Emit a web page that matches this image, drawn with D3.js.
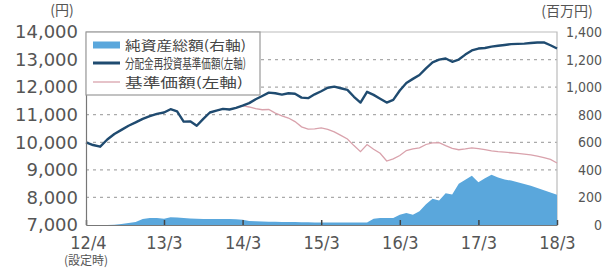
<!DOCTYPE html>
<html>
<head>
<meta charset="utf-8">
<script src="https://cdn.jsdelivr.net/npm/d3@7"></script>
<style>
  body { margin: 0; background: #fff; }
  svg { display: block; }
  .jp { font-family: "Noto Sans CJK JP", sans-serif; }
  .num { font-family: "DejaVu Sans", sans-serif; fill: #555; }
  .cond { font-family: "DejaVu Sans Condensed", "DejaVu Sans", sans-serif; fill: #555; }
</style>
</head>
<body>
<div id="chart"></div>
<script>
// monthly data, index 0 = 2012/4 (設定時) ... index 71 = 2018/3
const reinvestNav = [10000, 9900, 9840, 10100, 10300, 10450, 10600, 10720, 10850, 10950, 11030, 11080,
  11200, 11120, 10750, 10760, 10600, 10850, 11080, 11150, 11210, 11190, 11250, 11330,
  11420, 11560, 11680, 11800, 11780, 11730, 11780, 11760, 11620, 11600, 11740, 11850,
  11980, 12020, 11960, 11900, 11650, 11440, 11830, 11720, 11580, 11440, 11540, 11880,
  12150, 12300, 12440, 12680, 12900, 13000, 13040, 12920, 13000, 13180, 13330, 13400,
  13420, 13470, 13500, 13530, 13560, 13570, 13580, 13600, 13620, 13620, 13520, 13400]

const nav = [10000, 9900, 9840, 10100, 10300, 10450, 10600, 10720, 10850, 10950, 11030, 11080,
  11200, 11120, 10750, 10760, 10600, 10850, 11080, 11150, 11210, 11190, 11250, 11330,
  11280, 11220, 11180, 11190, 11060, 10960, 10880, 10750, 10560, 10480, 10490, 10520,
  10470, 10380, 10250, 10120, 9880, 9660, 9920, 9750, 9600, 9320, 9400, 9520,
  9700, 9760, 9800, 9920, 9980, 9990, 9880, 9780, 9730, 9760, 9800, 9770,
  9730, 9690, 9660, 9640, 9620, 9600, 9570, 9540, 9500, 9440, 9380, 9250]

const netAssets = [0, 0, 0, 0, 2, 8, 15, 22, 44, 51, 51, 46,
  56, 55, 51, 48, 46, 44, 44, 44, 44, 43, 42, 38,
  29, 27, 26, 24, 23, 22, 22, 21, 20, 20, 19, 19,
  18, 18, 18, 18, 18, 18, 18, 45, 51, 51, 51, 75,
  87, 75, 100, 150, 190, 178, 230, 222, 300, 328, 357, 310,
  340, 365, 345, 330, 322, 310, 298, 285, 268, 252, 235, 220]

const xTickMonths = [0, 11, 23, 35, 47, 59, 71]
const xTickLabels = ['12/4', '13/3', '14/3', '15/3', '16/3', '17/3', '18/3']
const leftTicks = [7000, 8000, 9000, 10000, 11000, 12000, 13000, 14000]
const rightTicks = [0, 200, 400, 600, 800, 1000, 1200, 1400]
const legendLabels = ['純資産総額(右軸)', '分配金再投資基準価額(左軸)', '基準価額(左軸)']

const w = 605, h = 271
const pL = 86, pR = 557, pT = 32, pB = 225

const svg = d3.select('#chart').append('svg').attr('width', w).attr('height', h)

const x = d3.scaleLinear().domain([0, 11, 71]).range([pL, 164, pR])
const yL = d3.scaleLinear().domain([7000, 14000]).range([pB, pT])
const yR = d3.scaleLinear().domain([0, 1400]).range([pB, pT])

// dotted grid
svg.append('g').selectAll('line')
   .data(leftTicks.slice(1, -1))
   .enter().append('line')
   .attr('x1', pL).attr('x2', pR)
   .attr('y1', d => yL(d)).attr('y2', d => yL(d))
   .attr('stroke', '#aaa').attr('stroke-width', 1.2)
   .attr('stroke-dasharray', '3,4')

// plot frame (top + right)
svg.append('path')
   .attr('d', `M${pL},${pT}H${pR}V${pB}`)
   .attr('fill', 'none').attr('stroke', '#bbb').attr('stroke-width', 1.2)

// net assets area
const area = d3.area()
               .x((d, i) => x(i))
               .y0(yR(0))
               .y1(d => yR(d))
svg.append('path').datum(netAssets)
   .attr('d', area)
   .attr('fill', '#5aa7dc')

// nav lines
const lineL = d3.line().x((d, i) => x(i)).y(d => yL(d))
svg.append('path').datum(nav)
   .attr('d', lineL)
   .attr('fill', 'none').attr('stroke', '#d9a2ac').attr('stroke-width', 1.3)

svg.append('path').datum(reinvestNav)
   .attr('d', lineL)
   .attr('fill', 'none').attr('stroke', '#1f4b70').attr('stroke-width', 2.4)
   .attr('stroke-linejoin', 'round')

// axes
const xA = d3.axisBottom(x)
             .tickValues(xTickMonths)
             .tickFormat((d, i) => xTickLabels[i])
             .tickSizeInner(-5).tickSizeOuter(0)
const gx = svg.append('g').attr('transform', 'translate(0,' + pB + ')').call(xA)
gx.select('.domain').attr('stroke', '#777').attr('stroke-width', 1.2)
gx.selectAll('.tick line').attr('stroke', '#444').attr('stroke-width', 1.5)
gx.selectAll('.tick text')
  .attr('class', 'cond').attr('y', 24).attr('dy', 0)
  .style('font-size', '18px')
gx.selectAll('.tick').filter((d, i) => i === 0).select('text').attr('x', 2)

svg.append('text').attr('class', 'jp')
   .attr('x', 86).attr('y', 265).attr('text-anchor', 'middle')
   .attr('fill', '#555').style('font-size', '12px')
   .text('(設定時)')

const yA = d3.axisLeft(yL).tickValues(leftTicks).tickFormat(d3.format(',')).tickSize(0).tickPadding(8)
const gy = svg.append('g').attr('transform', 'translate(' + pL + ',0)').call(yA)
gy.select('.domain').attr('stroke', '#777').attr('stroke-width', 1.2)
gy.selectAll('.tick text').attr('class', 'num').style('font-size', '18px')

const yB = d3.axisRight(yR).tickValues(rightTicks).tickFormat(d3.format(',')).tickSize(0)
const gr = svg.append('g').attr('transform', 'translate(' + pR + ',0)').call(yB)
gr.select('.domain').remove()
gr.selectAll('.tick text').attr('class', 'cond')
  .attr('x', 45).attr('text-anchor', 'end').style('font-size', '14px')

// unit labels
svg.append('text').attr('class', 'jp')
   .attr('x', 62).attr('y', 15).attr('text-anchor', 'middle')
   .attr('fill', '#555').style('font-size', '14px').text('(円)')
svg.append('text').attr('class', 'jp')
   .attr('x', 567).attr('y', 16).attr('text-anchor', 'middle')
   .attr('fill', '#555').style('font-size', '14px').text('(百万円)')

// legend
const lg = svg.append('g')
lg.append('rect').attr('x', pL).attr('y', pT).attr('width', 174).attr('height', 63)
  .attr('fill', '#fff').attr('stroke', '#999').attr('stroke-width', 1.2)
const rowY = [45, 63, 82]
lg.append('rect').attr('x', 93).attr('y', rowY[0] - 3.5).attr('width', 27).attr('height', 7).attr('fill', '#5aa7dc')
lg.append('line').attr('x1', 93).attr('x2', 120).attr('y1', rowY[1]).attr('y2', rowY[1])
  .attr('stroke', '#1f4b70').attr('stroke-width', 3)
lg.append('line').attr('x1', 93).attr('x2', 120).attr('y1', rowY[2]).attr('y2', rowY[2])
  .attr('stroke', '#d9a2ac').attr('stroke-width', 1.3)
lg.selectAll('text.leg')
  .data(legendLabels)
  .enter().append('text')
  .attr('class', 'jp leg')
  .attr('x', 125).attr('y', (d, i) => rowY[i] + 4.5)
  .attr('fill', '#444').style('font-size', '13px')
  .attr('textLength', (d, i) => i === 2 ? 118 : 121)
  .attr('lengthAdjust', 'spacingAndGlyphs')
  .text(d => d)
</script>
</body>
</html>
